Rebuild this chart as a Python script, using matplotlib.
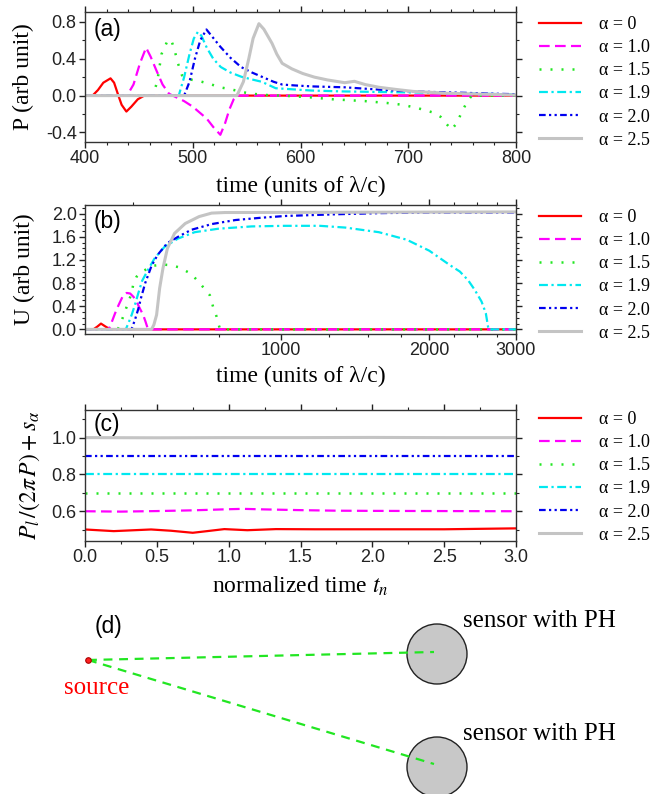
import numpy as np
import matplotlib.pyplot as plt
from matplotlib.ticker import MultipleLocator, FixedLocator, NullFormatter, FixedFormatter
from matplotlib.patches import Circle

plt.rcParams['font.family'] = ['Liberation Sans', 'DejaVu Sans']
plt.rcParams['mathtext.fontset'] = 'stix'
SERIF = ['Liberation Serif', 'DejaVu Serif']

W, H = 667, 794

alphas = ['0', '1.0', '1.5', '1.9', '2.0', '2.5']
labels = ['\u03b1 = ' + a for a in alphas]
colors = ['#ff0000', '#ff00ff', '#22e622', '#00e8f0', '#0000f0', '#c4c4c4']
styles = ['-', (0, (4.8, 2.4)), (0, (0.8, 3.6)), (0, (4, 1.6, 1, 1.6)),
          (0, (3, 1.5, 1, 1.5, 1, 1.5)), '-']
widths = [1.6, 1.6, 1.8, 1.6, 1.6, 2.2]

# (a) P vs time
ta = [
    [400, 407, 412, 417, 423.7, 427, 431, 434, 438.4, 443, 449, 455, 800],
    [400, 439, 445, 451, 456.7, 461, 466, 472, 478, 485, 492, 500, 507, 513, 519,
     525.6, 530, 534, 538, 541, 800],
    [400, 463, 467, 471, 476, 479.8, 483, 486, 490, 495, 505, 515, 525, 535, 545, 555,
     570, 590, 610, 630, 645, 660, 680, 695, 710, 722, 730, 735, 740, 745, 750, 755, 759, 800],
    [400, 487, 492, 497, 501, 504.7, 508, 513, 519, 526, 535, 545, 555, 564, 577, 590,
     610, 640, 670, 705, 740, 770, 800],
    [400, 492, 497, 502, 507, 512.7, 518, 525.6, 535, 544.8, 555, 564, 575, 583, 595,
     610, 625, 641, 660, 680, 705, 730, 753, 775, 800],
    [400, 541, 547, 552, 556, 561.4, 566, 573.6, 578, 583, 592, 602, 613, 625, 641, 650,
     660, 673, 690, 705, 737, 770, 800],
]
Pa = [
    [0, 0, 0.06, 0.14, 0.187, 0.14, 0.0, -0.10, -0.173, -0.12, -0.04, 0, 0],
    [0, 0, 0.12, 0.35, 0.52, 0.42, 0.28, 0.12, 0.02, -0.02, -0.06, -0.12, -0.19, -0.25,
     -0.34, -0.425, -0.30, -0.15, -0.04, 0, 0],
    [0, 0, 0.15, 0.45, 0.58, 0.61, 0.50, 0.36, 0.22, 0.18, 0.16, 0.13, 0.09, 0.07, 0.04,
     0.02, 0.005, -0.005, -0.02, -0.04, -0.05, -0.06, -0.08, -0.10, -0.14, -0.18, -0.23,
     -0.30, -0.37, -0.30, -0.17, -0.06, 0, 0],
    [0, 0, 0.20, 0.45, 0.62, 0.69, 0.65, 0.52, 0.40, 0.31, 0.25, 0.205, 0.175, 0.15,
     0.08, 0.07, 0.055, 0.045, 0.04, 0.034, 0.025, 0.02, 0.012],
    [0, 0, 0.15, 0.40, 0.60, 0.717, 0.64, 0.53, 0.41, 0.31, 0.25, 0.205, 0.15, 0.12,
     0.11, 0.10, 0.095, 0.09, 0.075, 0.06, 0.045, 0.037, 0.03, 0.022, 0.015],
    [0, 0, 0.15, 0.40, 0.62, 0.78, 0.72, 0.566, 0.45, 0.35, 0.29, 0.24, 0.20, 0.17,
     0.14, 0.155, 0.12, 0.09, 0.065, 0.045, 0.025, 0.015, 0.007],
]

# (b) U vs time
tb = [
    [400, 416, 424, 431, 440, 450, 3000],
    [400, 447, 453, 460, 468, 477, 486, 494, 502, 509, 517, 525, 531, 537, 3000],
    [400, 466, 471, 478.5, 486, 497.5, 501, 509, 522.5, 550, 576, 598, 622, 657, 684,
     717, 728, 740, 748, 752, 3000],
    [400, 484, 489.6, 497.5, 505, 513, 522.5, 537, 554, 580.6, 618, 668, 746, 872, 1019,
     1200, 1350, 1580, 1800, 2000, 2103, 2203, 2307, 2398, 2475, 2554, 2605, 2632, 2640, 3000],
    [400, 497, 505, 513, 520, 530, 546, 562, 587.5, 618, 657, 723, 808, 912, 1019, 1300,
     1600, 2000, 3000],
    [400, 546, 552, 559, 567, 576, 588, 608, 639, 682, 723, 770, 3000],
]
Ub = [
    [0, 0, 0.05, 0.10, 0.05, 0, 0],
    [0, 0, 0.12, 0.27, 0.42, 0.57, 0.63, 0.62, 0.56, 0.48, 0.36, 0.25, 0.13, 0, 0],
    [0, 0, 0.07, 0.23, 0.39, 0.63, 0.77, 0.91, 1.0, 1.1, 1.12, 1.11, 1.07, 0.96, 0.80,
     0.59, 0.39, 0.22, 0.07, 0, 0],
    [0, 0, 0.10, 0.25, 0.42, 0.62, 0.84, 1.03, 1.23, 1.43, 1.57, 1.68, 1.74, 1.78, 1.79,
     1.79, 1.76, 1.68, 1.55, 1.36, 1.23, 1.11, 1.0, 0.85, 0.68, 0.48, 0.28, 0.05, 0, 0],
    [0, 0, 0.16, 0.35, 0.55, 0.80, 1.10, 1.29, 1.49, 1.60, 1.72, 1.82, 1.89, 1.93, 1.96,
     1.99, 2.01, 2.02, 2.02],
    [0, 0, 0.08, 0.25, 0.71, 1.06, 1.40, 1.66, 1.83, 1.95, 2.01, 2.02, 2.03],
]

# (c) normalized power vs normalized time
tc = [
    [0, 0.2, 0.46, 0.6, 0.75, 0.85, 0.97, 1.13, 1.33, 1.6, 2.0, 2.5, 3.0],
    [0, 0.25, 0.5, 0.75, 1.0, 1.1, 1.25, 1.5, 1.75, 2.0, 2.5, 3.0],
    [0, 3.0],
    [0, 3.0],
    [0, 3.0],
    [0, 0.5, 1.0, 1.5, 2.0, 2.5, 3.0],
]
Pc = [
    [0.501, 0.492, 0.501, 0.494, 0.483, 0.492, 0.503, 0.497, 0.503, 0.502, 0.502, 0.502, 0.507],
    [0.600, 0.598, 0.601, 0.605, 0.611, 0.613, 0.610, 0.606, 0.603, 0.602, 0.601, 0.600],
    [0.7, 0.7],
    [0.8, 0.8],
    [0.9, 0.9],
    [1.0, 0.999, 1.0, 1.0, 1.001, 1.0, 1.0],
]

# (d) schematic (pixel coordinates)
source_xy = (88, 660)
sensor_xy = [(437, 654), (437, 767)]
beam_end = [(434, 652), (434, 764)]
sensor_r = 30

fig = plt.figure(figsize=(W / 100, H / 100), dpi=100)


def axes_px(top, bottom):
    return fig.add_axes([85 / W, 1 - bottom / H, (516 - 85) / W, (bottom - top) / H])


def style_axes(ax):
    for s in ax.spines.values():
        s.set_color('#333333')
        s.set_linewidth(1.0)
    ax.tick_params(which='both', direction='out', top=True, right=True,
                   labelsize=13, colors='#222222', pad=2)
    ax.tick_params(which='major', length=4, width=1)
    ax.tick_params(which='minor', length=2.5, width=0.8)


def add_legend(ax, top):
    ax.legend(loc='upper left', bbox_to_anchor=(539 / W, 1 - top / H),
              bbox_transform=fig.transFigure, frameon=False,
              prop={'family': SERIF, 'size': 13}, handlelength=2.3,
              handletextpad=1.0, labelspacing=0.34, borderpad=0, borderaxespad=0)


lab_kw = dict(family=SERIF, size=17)

# panel (a)
ax1 = axes_px(11.7, 141.7)
for i in range(6):
    ax1.plot(ta[i], Pa[i], color=colors[i], ls=styles[i], lw=widths[i], label=labels[i])
ax1.set_xlim(400, 800)
ax1.set_ylim(-0.5, 0.91)
ax1.xaxis.set_major_locator(MultipleLocator(100))
ax1.xaxis.set_minor_locator(MultipleLocator(20))
ax1.yaxis.set_major_locator(MultipleLocator(0.4))
ax1.yaxis.set_minor_locator(MultipleLocator(0.2))
ax1.yaxis.set_major_formatter(plt.FuncFormatter(lambda v, p: f'{v:.1f}'))
style_axes(ax1)
ax1.set_xlabel('time (units of \u03bb/c)', **lab_kw)
ax1.set_ylabel('P (arb unit)', **lab_kw)
ax1.xaxis.set_label_coords(0.5, -0.26)
ax1.yaxis.set_label_coords(-0.118, 0.5)
ax1.text(0.02, 0.95, '(a)', transform=ax1.transAxes, fontsize=16.5, va='top')
add_legend(ax1, 16)

# panel (b)
ax2 = axes_px(205, 334)
for i in range(6):
    ax2.plot(tb[i], Ub[i], color=colors[i], ls=styles[i], lw=widths[i], label=labels[i])
ax2.set_xscale('log')
ax2.set_xlim(400, 3000)
ax2.set_ylim(-0.08, 2.15)
ax2.xaxis.set_major_locator(FixedLocator([1000, 2000, 3000]))
ax2.xaxis.set_major_formatter(FixedFormatter(['1000', '2000', '3000']))
ax2.xaxis.set_minor_locator(FixedLocator([t for t in range(500, 3001, 250) if t % 1000]))
ax2.xaxis.set_minor_formatter(NullFormatter())
ax2.yaxis.set_major_locator(MultipleLocator(0.4))
ax2.yaxis.set_minor_locator(MultipleLocator(0.1))
ax2.yaxis.set_major_formatter(plt.FuncFormatter(lambda v, p: f'{v:.1f}'))
style_axes(ax2)
ax2.set_xlabel('time (units of \u03bb/c)', **lab_kw)
ax2.set_ylabel('U (arb unit)', **lab_kw)
ax2.xaxis.set_label_coords(0.5, -0.245)
ax2.yaxis.set_label_coords(-0.115, 0.5)
ax2.text(0.02, 0.96, '(b)', transform=ax2.transAxes, fontsize=16.5, va='top')
add_legend(ax2, 209)

# panel (c)
ax3 = axes_px(410, 540.7)
for i in range(6):
    ax3.plot(tc[i], Pc[i], color=colors[i], ls=styles[i], lw=widths[i], label=labels[i])
ax3.set_xlim(0, 3.0)
ax3.set_ylim(0.44, 1.15)
ax3.xaxis.set_major_locator(MultipleLocator(0.5))
ax3.xaxis.set_minor_locator(MultipleLocator(0.25))
ax3.yaxis.set_major_locator(MultipleLocator(0.2))
ax3.yaxis.set_minor_locator(MultipleLocator(0.1))
ax3.xaxis.set_major_formatter(plt.FuncFormatter(lambda v, p: f'{v:.1f}'))
ax3.yaxis.set_major_formatter(plt.FuncFormatter(lambda v, p: f'{v:.1f}'))
style_axes(ax3)
ax3.set_xlabel(r'normalized time $t_n$', **lab_kw)
ax3.set_ylabel(r'$P_l\,/(2\pi\, P) + s_\alpha$', size=17)
ax3.xaxis.set_label_coords(0.5, -0.26)
ax3.yaxis.set_label_coords(-0.1, 0.5)
ax3.text(0.02, 0.98, '(c)', transform=ax3.transAxes, fontsize=16.5, va='top')
add_legend(ax3, 411)

# panel (d)
ax4 = fig.add_axes([0, 0, 1, (H - 590) / H])
ax4.set_xlim(0, W)
ax4.set_ylim(H, 590)
ax4.axis('off')
for c in sensor_xy:
    ax4.add_patch(Circle(c, sensor_r, facecolor='#c8c8c8', edgecolor='#222222', lw=1.0))
for e in beam_end:
    ax4.plot([source_xy[0], e[0]], [source_xy[1], e[1]], color='#22e622', lw=1.6,
             ls=(0, (4, 3)))
ax4.plot(*source_xy, 'o', ms=4, color='#ff2020', mec='#aa0000', mew=0.8)
ax4.text(97, 688, 'source', color='#ff0000', family=SERIF, size=18, ha='center', va='center')
ax4.text(109, 627, '(d)', fontsize=16.5, ha='center', va='center')
for c in sensor_xy:
    ax4.text(463, c[1] - 33, 'sensor with PH', family=SERIF, size=18, ha='left', va='center')

fig.savefig('out.png', dpi=100)
